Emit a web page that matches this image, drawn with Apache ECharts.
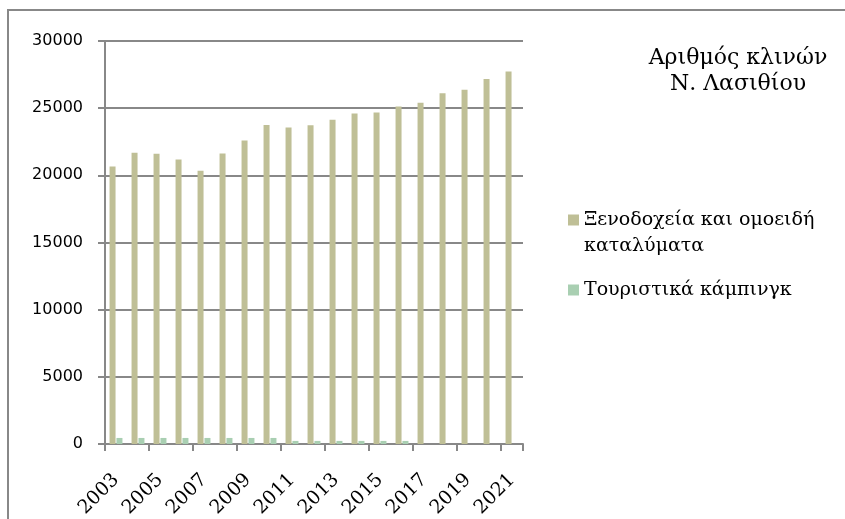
<!DOCTYPE html>
<html>
<head>
<meta charset="utf-8">
<script src="https://cdn.jsdelivr.net/npm/echarts@6/dist/echarts.min.js"></script>
<style>
  html, body { margin: 0; padding: 0; background: #fff; }
  #chart { width: 845px; height: 519px; }
</style>
</head>
<body>
<div id="chart"></div>
<script>
// years on the x axis
var years = ['2003','2004','2005','2006','2007','2008','2009','2010','2011','2012',
             '2013','2014','2015','2016','2017','2018','2019','2020','2021'];
// hotels and similar
var hotels = [20650, 21690, 21610, 21170, 20350, 21630, 22600, 23740, 23570, 23720,
              24140, 24610, 24680, 25130, 25400, 26110, 26370, 27170, 27730];
// campings
var camping = [450, 450, 450, 450, 450, 450, 450, 450, 230, 230,
               230, 230, 230, 230, 0, 0, 0, 0, 0];

var name1 = 'Ξενοδοχεία και ομοειδή καταλύματα';
var name2 = 'Τουριστικά κάμπινγκ';

var chart = echarts.init(document.getElementById('chart'));
var serif = '"DejaVu Serif", serif';

var option = {
  backgroundColor: '#ffffff',
  animation: false,
  title: {
    text: 'Αριθμός κλινών\nΝ. Λασιθίου',
    left: 733,
    top: 40,
    textAlign: 'center',
    textStyle: { fontFamily: serif, fontSize: 22, fontWeight: 'normal', color: '#000', lineHeight: 26 }
  },
  legend: {
    orient: 'vertical',
    left: 563,
    top: 176,
    itemWidth: 11,
    itemHeight: 11,
    itemGap: 18,
    icon: 'rect',
    data: [name1, name2],
    // empty first line keeps the marker level with the first text line
    formatter: function (n) {
      if (n === name1) return '\nΞενοδοχεία και ομοειδή\nκαταλύματα';
      return n;
    },
    textStyle: { fontFamily: serif, fontSize: 19, color: '#000', lineHeight: 26 }
  },
  grid: { left: 105, right: 322, top: 41, bottom: 75, outerBoundsMode: 'none' },
  xAxis: {
    type: 'category',
    data: years,
    axisLine: { lineStyle: { color: '#888', width: 2 } },
    axisTick: { show: true, length: 7, lineStyle: { color: '#888', width: 2 } },
    axisLabel: { interval: 1, rotate: 45, fontFamily: serif, fontSize: 19, color: '#000', margin: 33 }
  },
  yAxis: {
    type: 'value',
    min: 0,
    max: 30000,
    interval: 5000,
    axisLine: { show: true, lineStyle: { color: '#888', width: 2 } },
    axisTick: { show: true, length: 7, lineStyle: { color: '#888', width: 2 } },
    splitLine: { lineStyle: { color: '#888', width: 2 } },
    axisLabel: {
      fontFamily: '"DejaVu Sans", sans-serif', fontSize: 16, color: '#000', margin: 22,
      formatter: function (v) { return String(v); }
    }
  },
  series: [
    {
      name: name1,
      type: 'bar',
      data: hotels,
      barWidth: 6,
      barGap: '15%',
      itemStyle: { color: '#bfbf96' }
    },
    {
      name: name2,
      type: 'bar',
      data: camping,
      barWidth: 6,
      itemStyle: { color: '#a9cfb2' }
    }
  ],
  graphic: [{
    type: 'rect',
    shape: { x: 8, y: 10, width: 850, height: 530 },
    style: { fill: null, stroke: '#888', lineWidth: 2 },
    z: -1
  }]
};

chart.setOption(option);
</script>
</body>
</html>
